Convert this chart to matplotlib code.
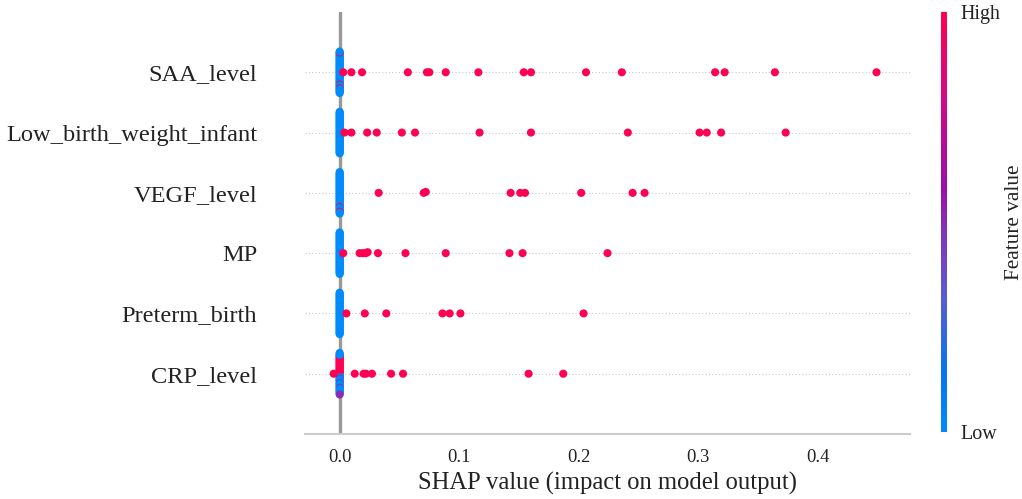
import numpy as np
import matplotlib
matplotlib.use("Agg")
import matplotlib.pyplot as plt
from matplotlib.colors import LinearSegmentedColormap
from matplotlib.cm import ScalarMappable

plt.rcParams['font.family'] = ['Liberation Serif', 'DejaVu Serif']

# features, bottom row first
features = ["CRP_level", "Preterm_birth", "MP", "VEGF_level",
            "Low_birth_weight_infant", "SAA_level"]

# samples whose SHAP value is ~0 (mostly low feature value), in data order
crp_zero_feat = [1, 1, 0, 1, 0, 1, 0, 1, 0, 1, 0.5, 1, 0, 1, 0, 1, 0, 1, 0, 1,
                 0.5, 1, 0, 1, 0, 1, 0, 1, 0, 1, 0.5, 1, 0, 1, 0, 1, 0, 1, 0, 0,
                 0, 0, 0, 0, 0.5]
preterm_zero_feat = [0] * 45
mp_zero_feat = [0] * 45
vegf_zero_feat = [0] * 30 + [1] + [0] * 9 + [1] + [0] * 4
lbw_zero_feat = [0] * 45
saa_zero_feat = [0] * 26 + [1] + [0] * 7 + [1] + [0] * 6 + [1] + [0] * 3

# SHAP values of the high-feature-value samples away from zero (red dots)
crp_high = [-0.005, 0.0126, 0.020, 0.022, 0.027, 0.043, 0.053, 0.158, 0.187]
preterm_high = [0.0056, 0.021, 0.039, 0.086, 0.092, 0.101, 0.204]
mp_high = [0.003, 0.0167, 0.0193, 0.0218, 0.0234, 0.032, 0.055, 0.0887,
           0.142, 0.153, 0.224]
vegf_high = [0.0326, 0.0703, 0.072, 0.143, 0.151, 0.155, 0.202, 0.245, 0.255]
lbw_high = [0.004, 0.0098, 0.023, 0.031, 0.052, 0.063, 0.117, 0.160, 0.241,
            0.301, 0.307, 0.319, 0.373]
saa_high = [0.003, 0.0098, 0.0187, 0.057, 0.073, 0.075, 0.0887, 0.116, 0.154,
            0.160, 0.206, 0.236, 0.314, 0.322, 0.364, 0.449]

zero_feats = [crp_zero_feat, preterm_zero_feat, mp_zero_feat, vegf_zero_feat,
              lbw_zero_feat, saa_zero_feat]
high_shaps = [crp_high, preterm_high, mp_high, vegf_high, lbw_high, saa_high]

xticks = [0.0, 0.1, 0.2, 0.3, 0.4]

cmap = LinearSegmentedColormap.from_list("red_blue", [
    (0.0, "#008bfb"), (0.15, "#0b72ee"), (0.32, "#5b5ad6"),
    (0.47, "#8236bd"), (0.58, "#9c10a6"), (0.78, "#cf0a8a"), (1.0, "#ff0052")])


def swarm_offsets(shaps, nbins=100, row_height=0.4):
    quant = np.round(nbins * (shaps - shaps.min()) / (shaps.max() - shaps.min() + 1e-8))
    inds = np.argsort(quant, kind="stable")
    ys = np.zeros(len(shaps))
    layer, last_bin = 0, -1
    for ind in inds:
        if quant[ind] != last_bin:
            layer = 0
        ys[ind] = np.ceil(layer / 2) * ((layer % 2) * 2 - 1)
        layer += 1
        last_bin = quant[ind]
    ys *= 0.9 * (row_height / np.max(ys + 1))
    return ys


fig = plt.figure(figsize=(10.22, 4.99), dpi=100)
ax = fig.add_axes([305 / 1022, 65 / 499, 605 / 1022, 422 / 499])

for pos, (zf, hs) in enumerate(zip(zero_feats, high_shaps)):
    shaps = np.array([0.0] * len(zf) + list(hs))
    feats = np.array(list(zf) + [1.0] * len(hs))
    ys = swarm_offsets(shaps)
    ax.axhline(pos, color="#c8c8c8", lw=0.8, linestyle=(0, (1, 2)), zorder=-1)
    ax.scatter(shaps, pos + ys, c=cmap(feats), s=34, linewidths=0, zorder=3)

ax.axvline(0, color="#999999", lw=2.4, zorder=-1)

ax.set_xlim(-0.029, 0.477)
ax.set_ylim(-1, len(features))
ax.set_yticks(range(len(features)))
ax.set_yticklabels(features, fontsize=17.6, color="#222222")
ax.set_xticks(xticks)
ax.set_xticklabels([f"{t:.1f}" for t in xticks], fontsize=13.3, color="#222222")
ax.tick_params(axis="y", length=0, pad=34.5)
ax.tick_params(axis="x", length=0, pad=11)
ax.set_xlabel("SHAP value (impact on model output)", fontsize=17.7,
              color="#222222", labelpad=4)
for side in ["left", "right", "top"]:
    ax.spines[side].set_visible(False)
ax.spines["bottom"].set_color("#cccccc")
ax.spines["bottom"].set_linewidth(1.5)

cax = fig.add_axes([941 / 1022, 67 / 499, 6 / 1022, 420 / 499])
cb = fig.colorbar(ScalarMappable(cmap=cmap), cax=cax, ticks=[0, 1])
cb.set_ticklabels(["Low", "High"])
cb.ax.tick_params(length=0, labelsize=14.4, pad=10, colors="#222222")
cb.set_label("Feature value", size=15.3, labelpad=3, color="#222222")
cb.outline.set_visible(False)

fig.savefig("out.png", dpi=100)
